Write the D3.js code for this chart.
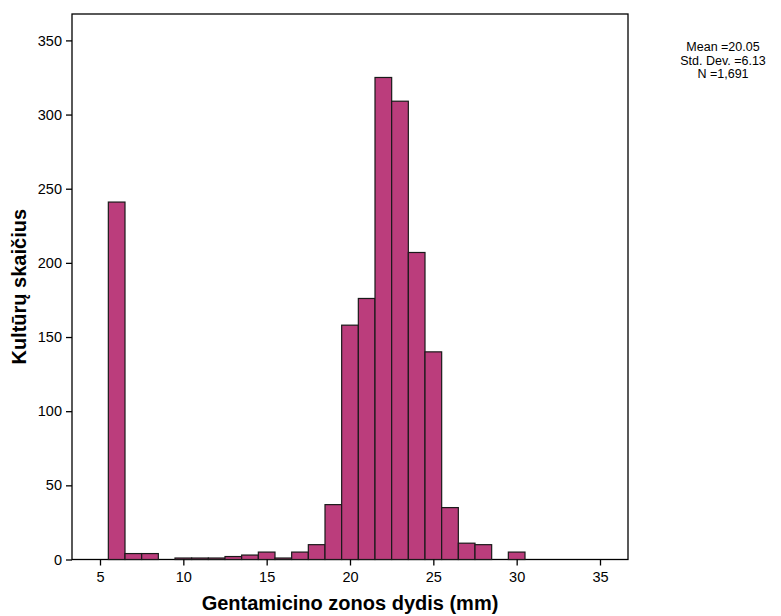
<!DOCTYPE html>
<html>
<head>
<meta charset="utf-8">
<script src="https://cdn.jsdelivr.net/npm/d3@7"></script>
<style>
  body { margin: 0; background: #fff; }
  svg { display: block; font-family: "Liberation Sans", Arial, sans-serif; }
</style>
</head>
<body>
<svg id="chart" width="781" height="616"></svg>
<script>
// histogram bins: zone diameter (mm) centre and culture count
const binCenters = [6, 7, 8, 9, 10, 11, 12, 13, 14, 15, 16, 17, 18, 19, 20, 21, 22, 23, 24, 25, 26, 27, 28, 29, 30];
const binCounts = [241, 4, 4, 0, 1, 1, 1, 2, 3, 5, 1, 5, 10, 37, 158, 176, 325, 309, 207, 140, 35, 11, 10, 0, 5];
const xTicks = [5, 10, 15, 20, 25, 30, 35];
const yTicks = [0, 50, 100, 150, 200, 250, 300, 350];
const statsLines = ["Mean =20.05", "Std. Dev. =6.13", "N =1,691"];

const svg = d3.select("#chart");
const plotLeft = 72, plotTop = 14, plotRight = 628, plotBottom = 559.5;

const x = d3.scaleLinear().domain([3.32, 36.68]).range([plotLeft, plotRight]);
const y = d3.scaleLinear().domain([0, 367.8]).range([plotBottom, plotTop]);

// frame
svg.append("rect")
  .attr("x", plotLeft).attr("y", plotTop)
  .attr("width", plotRight - plotLeft).attr("height", plotBottom - plotTop)
  .attr("fill", "none").attr("stroke", "#000").attr("stroke-width", 1.3);

// bars
svg.append("g")
  .selectAll("rect")
  .data(binCenters.map((c, i) => ({ c, n: binCounts[i] })).filter((d) => d.n > 0))
  .join("rect")
  .attr("x", (d) => x(d.c - 0.5))
  .attr("width", (d) => x(d.c + 0.5) - x(d.c - 0.5))
  .attr("y", (d) => y(d.n))
  .attr("height", (d) => y(0) - y(d.n))
  .attr("fill", "#bb3d7c")
  .attr("stroke", "#1a1a1a")
  .attr("stroke-width", 1.2);

// axes
const xAxis = svg.append("g")
  .attr("transform", `translate(0,${plotBottom})`)
  .call(d3.axisBottom(x).tickValues(xTicks).tickSize(6).tickPadding(6));
const yAxis = svg.append("g")
  .attr("transform", `translate(${plotLeft},0)`)
  .call(d3.axisLeft(y).tickValues(yTicks).tickSize(6).tickPadding(4));

[xAxis, yAxis].forEach((ax) => {
  ax.select(".domain").remove();
  ax.selectAll(".tick line").attr("stroke", "#000").attr("stroke-width", 1.3);
  ax.selectAll(".tick text")
    .attr("fill", "#000")
    .style("font-size", "14.5px")
    .style("font-family", "Liberation Sans, Arial, sans-serif");
});

// axis titles
svg.append("text")
  .attr("x", (plotLeft + plotRight) / 2)
  .attr("y", 610)
  .attr("text-anchor", "middle")
  .style("font-size", "20px")
  .style("font-weight", "bold")
  .text("Gentamicino zonos dydis (mm)");

svg.append("text")
  .attr("transform", `translate(26,${(plotTop + plotBottom) / 2}) rotate(-90)`)
  .attr("text-anchor", "middle")
  .style("font-size", "20px")
  .style("font-weight", "bold")
  .text("Kultūrų skaičius");

// stats box text
svg.append("g")
  .selectAll("text")
  .data(statsLines)
  .join("text")
  .attr("x", 723)
  .attr("y", (d, i) => 51 + i * 13.5)
  .attr("text-anchor", "middle")
  .style("font-size", "12.5px")
  .text((d) => d);
</script>
</body>
</html>
